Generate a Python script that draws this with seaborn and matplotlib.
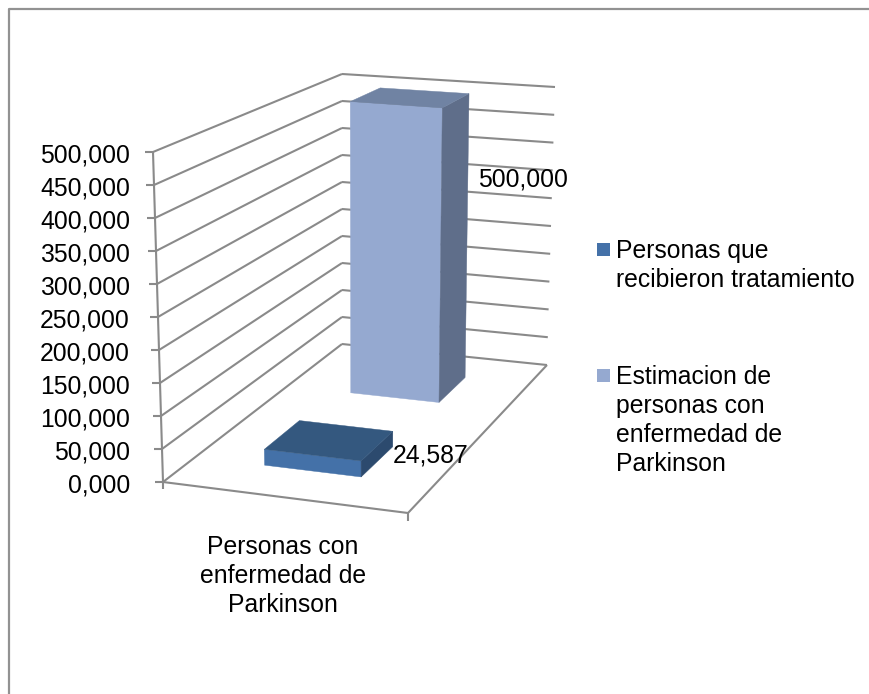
import numpy as np
import pandas as pd
import matplotlib
matplotlib.use("Agg")
import matplotlib.pyplot as plt
from matplotlib.patches import Polygon, Rectangle
import seaborn as sb

categorias = ["Personas con\nenfermedad de\nParkinson"]
series = ["Personas que\nrecibieron tratamiento", "Estimacion de\npersonas con\nenfermedad de\nParkinson"]
valores = [24.587, 500.0]
ticks = [0, 50, 100, 150, 200, 250, 300, 350, 400, 450, 500]

colores_frente = ["#4471A8", "#95A9D0"]
colores_arriba = ["#34587F", "#7083A3"]
colores_lado = ["#2C4A6E", "#5F6E8A"]
gris = "#8A8A8A"

# esquinas de la caja en pixeles: FL, FR, BR, BL
piso = [(163, 482), (408, 513), (547, 365), (342, 344)]
techo = [(153, 152), (411, 175), (555, 87), (342, 74)]
u0, u1 = 0.297, 0.703
filas = [(0.155, 0.345), (0.653, 0.845)]


def homografia(q):
    (x0, y0), (x1, y1), (x2, y2), (x3, y3) = q
    dx1, dx2, sx = x1 - x2, x3 - x2, x0 - x1 + x2 - x3
    dy1, dy2, sy = y1 - y2, y3 - y2, y0 - y1 + y2 - y3
    det = dx1 * dy2 - dx2 * dy1
    g = (sx * dy2 - dx2 * sy) / det
    h = (dx1 * sy - sx * dy1) / det
    return np.array([[x1 - x0 + g * x1, x3 - x0 + h * x3, x0],
                     [y1 - y0 + g * y1, y3 - y0 + h * y3, y0],
                     [g, h, 1]])


H_piso = homografia(piso)
H_techo = homografia(techo)


def proy(u, v, valor):
    a = H_piso @ [u, v, 1]
    b = H_techo @ [u, v, 1]
    t = valor / ticks[-1]
    return (1 - t) * a[:2] / a[2] + t * b[:2] / b[2]


sb.set_theme(style="white")
plt.rcParams["font.family"] = ["Liberation Sans", "DejaVu Sans"]
TAM = 17.8
INTERLINEA = 1.27

df = pd.DataFrame({
    "categoria": categorias * len(series),
    "serie": series,
    "valor": valores,
})

fig = plt.figure(figsize=(8.7, 6.94), dpi=100)

# las alturas salen del barplot de seaborn, la caja 3D se proyecta a mano
ax_datos = fig.add_axes([0, 0, 0.1, 0.1])
sb.barplot(data=df, x="categoria", y="valor", hue="serie", palette=colores_frente,
           legend=False, ax=ax_datos)
alturas = [c[0].get_height() for c in ax_datos.containers]
ax_datos.set_visible(False)

ax = fig.add_axes([0, 0, 1, 1])
ax.set_xlim(0, 870)
ax.set_ylim(694, 0)
ax.axis("off")


def linea(p, q, lw=1.5):
    ax.plot([p[0], q[0]], [p[1], q[1]], color=gris, lw=lw, solid_capstyle="butt", zorder=1)


# marco (solo se ve arriba e izquierda)
ax.plot([870, 9, 9], [9.2, 9.2, 694], color="#929292", lw=1.6, zorder=1)

# paredes
for t in ticks:
    linea(proy(0, 0, t), proy(0, 1, t))
    linea(proy(0, 1, t), proy(1, 1, t))
    p = proy(0, 0, t)
    linea((p[0] - 8, p[1]), p)
    ax.text(130, p[1] + 10.5, f"{t:.3f}".replace(".", ","), ha="right", va="baseline",
            fontsize=TAM, color="black")
linea(proy(0, 0, 0), proy(0, 0, ticks[-1]))

# piso
linea(proy(0, 0, 0), proy(1, 0, 0))
linea(proy(1, 0, 0), proy(1, 1, 0))
fl, fr = proy(0, 0, 0), proy(1, 0, 0)
linea(fl, (fl[0], fl[1] + 7))
linea(fr, (fr[0], fr[1] + 8))

# barras, de atras hacia adelante
for i in [1, 0]:
    v0, v1 = filas[i]
    h = alturas[i]
    caras = [
        ([proy(u0, v0, 0), proy(u1, v0, 0), proy(u1, v0, h), proy(u0, v0, h)], colores_frente[i]),
        ([proy(u1, v0, 0), proy(u1, v1, 0), proy(u1, v1, h), proy(u1, v0, h)], colores_lado[i]),
        ([proy(u0, v0, h), proy(u1, v0, h), proy(u1, v1, h), proy(u0, v1, h)], colores_arriba[i]),
    ]
    for puntos, color in caras:
        ax.add_patch(Polygon(puntos, closed=True, facecolor=color, edgecolor=color, lw=0.3, zorder=2))

# etiquetas de valor
pos_etiquetas = [(393, 462), (478, 186)]
for h, (x, y) in zip(alturas, pos_etiquetas):
    ax.text(x, y, f"{h:.3f}".replace(".", ","), ha="left", va="baseline", fontsize=TAM,
            color="black", zorder=3)

# categoria
ax.text(283, 612, categorias[0], ha="center", va="baseline", fontsize=TAM, color="black",
        linespacing=INTERLINEA, multialignment="center")

# leyenda
pos_leyenda = [(597, 243, 287), (597, 369, 471)]
for s, color, (x, y, base) in zip(series, colores_frente, pos_leyenda):
    ax.add_patch(Rectangle((x, y), 13, 13, facecolor=color, edgecolor="none"))
    ax.text(x + 19, base, s, ha="left", va="baseline", fontsize=TAM, color="black",
            linespacing=INTERLINEA)

fig.savefig("out.png", dpi=100, facecolor="white")
